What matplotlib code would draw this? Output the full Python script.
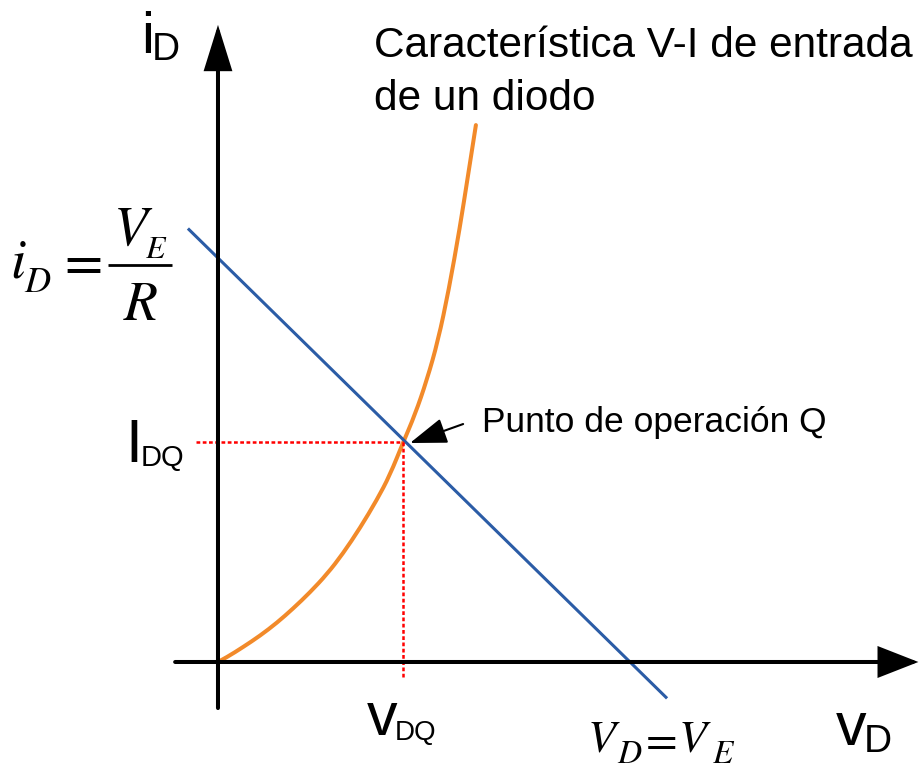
import matplotlib
matplotlib.use("Agg")
import matplotlib.pyplot as plt
from matplotlib.path import Path
from matplotlib.patches import PathPatch

# -----------------------------
# datos (unidades arbitrarias: vD en V, iD en mA)
# -----------------------------
VE = 10.0          # corte de la recta de carga en el eje vD
R = 1.0            # VE / R = corte en el eje iD
recta_x = [-0.73, 10.9]     # tramo dibujado de la recta de carga

# curva del diodo
diodo_v = [0, 0.22, 0.61, 1.02, 1.43, 1.82, 2.23, 2.65, 3.03, 3.45,
           3.86, 4.17, 4.50, 4.78, 5.07, 5.34, 5.60, 5.87, 6.07, 6.26]
diodo_i = [0, 0.12, 0.37, 0.65, 0.97, 1.32, 1.72, 2.18, 2.68, 3.32,
           4.02, 4.62, 5.45, 6.12, 6.98, 7.95, 9.20, 10.75, 12.05, 13.29]

VDQ = 4.5
IDQ = 5.45

plt.rcParams["font.family"] = ["Liberation Sans", "DejaVu Sans"]
plt.rcParams["mathtext.fontset"] = "stix"

fig = plt.figure(figsize=(9.19, 7.72), dpi=100)
ax = fig.add_axes([0, 0, 1, 1])
ax.axis("off")
ax.set_xlim(-5.291, 17.015)
ax.set_ylim(-2.723, 16.386)

# ejes con flecha
ax.annotate("", xy=(0, 15.77), xytext=(0, -1.14),
            arrowprops=dict(arrowstyle="-|>,head_length=1.35,head_width=0.42",
                            lw=2.9, color="black", shrinkA=0, shrinkB=0,
                            mutation_scale=20, joinstyle="miter"))
ax.annotate("", xy=(17.0, 0), xytext=(-1.04, 0),
            arrowprops=dict(arrowstyle="-|>,head_length=1.2,head_width=0.47",
                            lw=2.9, color="black", shrinkA=0, shrinkB=0,
                            mutation_scale=20, joinstyle="miter"))

# recta de carga
recta_y = [VE / R - x * (1 / R) for x in recta_x]
ax.plot(recta_x, recta_y, color="#2b5ca6", lw=2.2, solid_capstyle="butt")

# curva del diodo, suavizada con curvas de Bezier entre los puntos leidos
pts = list(zip(diodo_v, diodo_i))
verts = [pts[0]]
codes = [Path.MOVETO]
for k in range(1, len(pts) - 1):
    if k == len(pts) - 2:
        fin = pts[-1]
    else:
        fin = ((pts[k][0] + pts[k + 1][0]) / 2, (pts[k][1] + pts[k + 1][1]) / 2)
    verts += [pts[k], fin]
    codes += [Path.CURVE3, Path.CURVE3]
ax.add_patch(PathPatch(Path(verts, codes), fill=False, edgecolor="#f28a2a",
                       lw=2.9, capstyle="round"))

# lineas punteadas al punto Q
ax.plot([-0.53, VDQ], [IDQ, IDQ], color="#ff0000", lw=1.8, ls=(0, (1.5, 1.0)))
ax.plot([VDQ, VDQ], [IDQ, -0.40], color="#ff0000", lw=1.8, ls=(0, (1.5, 1.0)))

# flecha al punto Q
ax.annotate("", xy=(VDQ + 0.16, IDQ - 0.03), xytext=(5.95, 5.89),
            arrowprops=dict(arrowstyle="-|>,head_length=1.15,head_width=0.4",
                            lw=1.5, color="black", shrinkA=0, shrinkB=0,
                            mutation_scale=20))

# textos
ax.text(3.786, 14.975, "Característica V-I de entrada", fontsize=30.5,
        ha="left", va="baseline")
ax.text(3.786, 13.663, "de un diodo", fontsize=30.5, ha="left", va="baseline")
ax.text(6.40, 5.693, "Punto de operación Q", fontsize=25.5, ha="left", va="baseline")

ax.text(-1.87, 15.074, "i", fontsize=42, ha="left", va="baseline")
ax.text(-1.60, 14.90, "D", fontsize=28, ha="left", va="baseline")

ax.text(-2.26, 4.95, "I", fontsize=44, ha="left", va="baseline")
ax.text(-1.87, 4.85, "DQ", fontsize=21, ha="left", va="baseline")

ax.text(3.62, -1.807, "v", fontsize=44, ha="left", va="baseline")
ax.text(4.28, -1.931, "DQ", fontsize=20, ha="left", va="baseline")

ax.text(15.0, -2.054, "v", fontsize=44, ha="left", va="baseline")
ax.text(15.68, -2.228, "D", fontsize=28, ha="left", va="baseline")

# iD = VE / R
ax.text(-5.049, 9.505, "$i$", fontsize=40, ha="left", va="baseline")
ax.text(-4.709, 9.158, "$D$", fontsize=26, ha="left", va="baseline")
ax.text(-3.94, 9.505, "$=$", fontsize=40, ha="left", va="baseline")
ax.text(-2.549, 10.322, "$V$", fontsize=40, ha="left", va="baseline")
ax.text(-1.78, 10.0, "$E$", fontsize=23, ha="left", va="baseline")
ax.plot([-2.670, -1.117], [9.827, 9.827], color="black", lw=2.0,
        solid_capstyle="butt")
ax.text(-2.306, 8.465, "$R$", fontsize=40, ha="left", va="baseline")

# VD = VE
ax.text(8.956, -2.228, "$V$", fontsize=33, ha="left", va="baseline")
ax.text(9.68, -2.50, "$D$", fontsize=24, ha="left", va="baseline")
ax.text(10.23, -2.228, "$=$", fontsize=33, ha="left", va="baseline")
ax.text(11.17, -2.228, "$V$", fontsize=33, ha="left", va="baseline")
ax.text(12.00, -2.50, "$E$", fontsize=24, ha="left", va="baseline")

fig.savefig("out.png", dpi=100)
